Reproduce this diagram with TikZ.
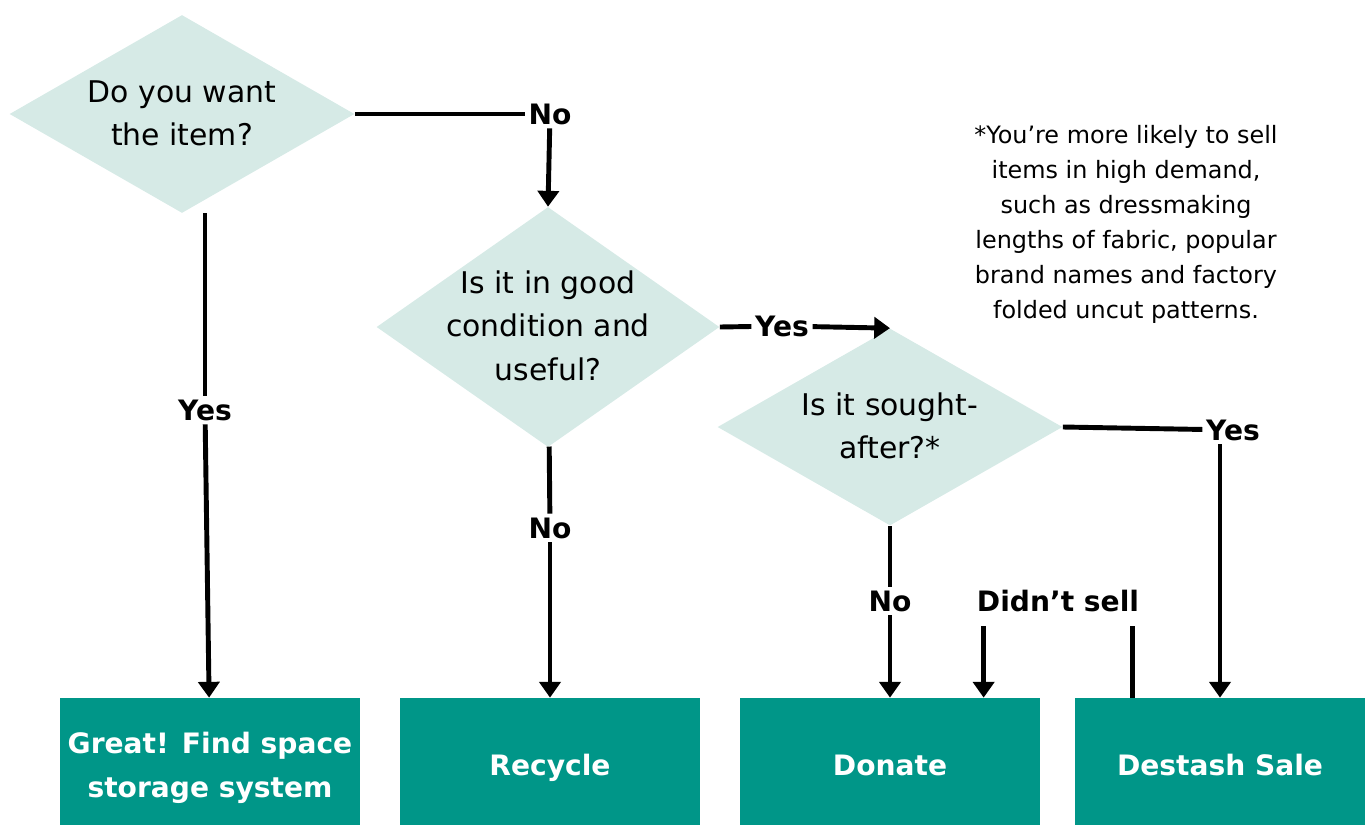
\documentclass[tikz,border=0pt]{standalone}
\usepackage{fontspec}
\setmainfont{DejaVu Sans}
\usepackage{tikz}
\usetikzlibrary{arrows.meta}
\usetikzlibrary{shapes.geometric}
\definecolor{qfill}{RGB}{214,234,230}
\definecolor{boxteal}{RGB}{0,150,136}
% text must not grow the shape
\newcommand{\qtext}[2][-5pt]{\makebox[0pt]{\smash{\raisebox{#1}{\begin{tabular}{@{}c@{}}#2\end{tabular}}}}}
\tikzset{question/.style={diamond,fill=qfill,inner sep=0pt,font=\fontsize{17}{25}\selectfont}}
\tikzset{outcome/.style={rectangle,fill=boxteal,text=white,inner sep=0pt,font=\bfseries\fontsize{16}{25}\selectfont,minimum width=6cm,minimum height=2.54cm}}
\tikzset{answer/.style={font=\bfseries\fontsize{16}{20}\selectfont,inner sep=2pt}}
\tikzset{link/.style={line width=2.8pt}}
\tikzset{flow/.style={link,-{Triangle[width=12pt,length=9pt]}}}

\begin{document}
\begin{tikzpicture}[x=0.02cm,y=-0.02cm]
\useasboundingbox (0,0) rectangle (1365,825);

\node[question,minimum width=6.9cm,minimum height=3.96cm] (want) at (182,114) {\qtext{Do you want\\the item?}};
\node[question,minimum width=6.86cm,minimum height=4.8cm] (good) at (548,327) {\qtext{Is it in good\\condition and\\useful?}};
\node[question,minimum width=6.9cm,minimum height=3.94cm] (sought) at (890,427) {\qtext{Is it sought-\\after?*}};

\node[outcome] (great) at (210,761.5) {\qtext[-7.5pt]{Great! Find space\\storage system}};
\node[outcome] (recycle) at (550,761.5) {\qtext[-7.5pt]{Recycle}};
\node[outcome] (donate) at (890,761.5) {\qtext[-7.5pt]{Donate}};
\node[outcome,minimum width=5.8cm] (destash) at (1220,761.5) {\qtext[-7.5pt]{Destash Sale}};

\node[answer] (no1) at (550,114) {No};
\node[answer] (yes1) at (205,410) {Yes};
\node[answer] (no2) at (550,528) {No};
\node[answer] (yes2) at (782,326) {Yes};
\node[answer] (yes3) at (1233,430) {Yes};
\node[answer] (no3) at (890,601) {No};
\node[answer] (sell) at (1058,601) {Didn’t sell};

\node[align=center,font=\fontsize{13.6}{19.9}\selectfont] (note) at (1126,224) {*You’re more likely to sell\\items in high demand,\\such as dressmaking\\lengths of fabric, popular\\brand names and factory\\folded uncut patterns.};

 \draw[link] (want.east) -- (no1);
 \draw[flow] (no1) -- (good.north);
 \draw[link] (want.south -| yes1) -- (yes1);
 \draw[flow] (yes1) -- (great);
 \draw[link] (good) -- (no2);
 \draw[flow] (no2) -- (recycle);
 \draw[link] (good.east) -- (yes2);
 \draw[flow] (yes2) -- (sought.north);
 \draw[link] (sought.east) -- (yes3);
 \draw[flow] (yes3.south -| destash) -- (destash);
 \draw[link] (sought) -- (no3);
 \draw[flow] (no3) -- (donate);
 \draw[link,shorten >=6pt] ([xshift=-6pt]sell.south east |- destash.north) -- ([xshift=-6pt]sell.south east);
 \draw[flow,shorten <=6pt] ([xshift=6pt]sell.south west) -- ([xshift=6pt]sell.south west |- donate.north);

\end{tikzpicture}
\end{document}
